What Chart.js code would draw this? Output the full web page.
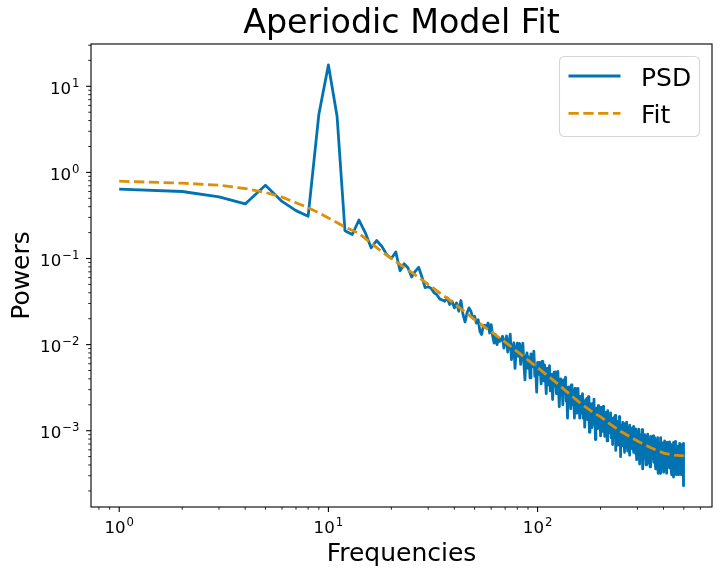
<!DOCTYPE html>
<html>
<head>
<meta charset="utf-8">
<title>Aperiodic Model Fit</title>
<script src="https://cdn.jsdelivr.net/npm/chart.js@4"></script>
<style>
  html, body { margin: 0; padding: 0; background: #fff; }
  canvas { display: block; }
</style>
</head>
<body>
<canvas id="chart" width="720" height="577"></canvas>
<script>
// Power spectrum, one value per 1 Hz bin starting at 1 Hz
const psdPowers = [
  0.64, 0.60, 0.52, 0.43, 0.71, 0.46, 0.36, 0.31, 4.7, 17.7,
  4.5, 0.21, 0.19, 0.28, 0.20, 0.133, 0.162, 0.139, 0.111, 0.100,
  0.119, 0.072, 0.087, 0.078, 0.061, 0.071, 0.079, 0.061, 0.046, 0.047,
  0.045, 0.040, 0.038, 0.034, 0.033, 0.0319, 0.0348, 0.0292, 0.0319, 0.0267,
  0.0305, 0.0244, 0.0325, 0.0224, 0.0183, 0.0233, 0.0267, 0.0244, 0.0204, 0.0213,
  0.0178, 0.0195, 0.0143, 0.0131, 0.0163, 0.0168, 0.0156, 0.0178, 0.0136, 0.0171,
  0.0125, 0.0104, 0.0131, 0.0100, 0.0119, 0.0109, 0.0114, 0.0125, 0.0091, 0.0109,
  0.0126, 0.0082, 0.0105, 0.0132, 0.0067, 0.0088, 0.0105, 0.0053, 0.0086, 0.0104,
  0.0073, 0.0103, 0.0059, 0.0084, 0.0104, 0.0061, 0.0039, 0.0071, 0.0080, 0.0053,
  0.0072, 0.0041, 0.0078, 0.0055, 0.0059, 0.0084, 0.0043, 0.0053, 0.0028, 0.0062,
  0.0045, 0.0062, 0.0051, 0.0035, 0.0064, 0.0053, 0.0038, 0.0058, 0.0041, 0.0027,
  0.0053, 0.0034, 0.0044, 0.0057, 0.0029, 0.0038, 0.0045, 0.0023, 0.0038, 0.0048,
  0.0033, 0.0048, 0.0027, 0.0040, 0.0049, 0.0029, 0.0019, 0.0035, 0.0040, 0.0026,
  0.0035, 0.0020, 0.0039, 0.0027, 0.0030, 0.0042, 0.0022, 0.0027, 0.0014, 0.0032,
  0.0023, 0.0032, 0.0026, 0.0018, 0.0034, 0.0028, 0.0020, 0.0030, 0.0022, 0.0014,
  0.0031, 0.0021, 0.0026, 0.0016, 0.0023, 0.0031, 0.0019, 0.0021, 0.0014, 0.0025,
  0.0025, 0.0016, 0.0021, 0.0027, 0.0014, 0.0018, 0.0022, 0.0011, 0.0019, 0.0023,
  0.00166, 0.00237, 0.00135, 0.00196, 0.00248, 0.00149, 0.00096, 0.00181, 0.00205, 0.00136,
  0.00185, 0.00109, 0.00206, 0.00148, 0.00162, 0.00233, 0.00119, 0.0015, 0.00079, 0.00178,
  0.00131, 0.00184, 0.00152, 0.00106, 0.00195, 0.00164, 0.00118, 0.00184, 0.00131, 0.00087,
  0.00187, 0.00128, 0.00162, 0.00098, 0.00145, 0.00192, 0.00116, 0.00134, 0.00086, 0.00158,
  0.00124, 0.00163, 0.00103, 0.00141, 0.00076, 0.00171, 0.00126, 0.00094, 0.00149, 0.00111,
  0.00146, 0.00097, 0.00126, 0.00161, 0.00083, 0.00111, 0.00133, 0.00069, 0.00114, 0.0014,
  0.001, 0.00143, 0.00083, 0.0012, 0.00151, 0.00092, 0.00059, 0.00111, 0.00127, 0.00084,
  0.00114, 0.00068, 0.00129, 0.00092, 0.00102, 0.00146, 0.00075, 0.00095, 0.0005, 0.00113,
  0.00083, 0.00116, 0.00097, 0.00067, 0.00125, 0.00105, 0.00076, 0.00118, 0.00085, 0.00056,
  0.00121, 0.00083, 0.00106, 0.00064, 0.00096, 0.00126, 0.00077, 0.0009, 0.00058, 0.00107,
  0.00084, 0.0011, 0.0007, 0.00096, 0.00052, 0.00116, 0.00085, 0.00063, 0.00101, 0.00075,
  0.00095, 0.0007, 0.00107, 0.00061, 0.00085, 0.00072, 0.00112, 0.00056, 0.00087, 0.00075,
  0.00095, 0.00062, 0.00082, 0.00105, 0.00054, 0.00073, 0.00089, 0.00046, 0.00076, 0.00095,
  0.00068, 0.00098, 0.00056, 0.00083, 0.00104, 0.00063, 0.00041, 0.00077, 0.00088, 0.00058,
  0.00079, 0.00047, 0.0009, 0.00065, 0.00071, 0.00103, 0.00053, 0.00067, 0.00036, 0.00082,
  0.0006, 0.00084, 0.00069, 0.00048, 0.0009, 0.00075, 0.00054, 0.00085, 0.0006, 0.0004,
  0.00087, 0.00059, 0.00076, 0.00046, 0.00069, 0.00091, 0.00055, 0.00065, 0.00042, 0.00078,
  0.00061, 0.0008, 0.00051, 0.0007, 0.00038, 0.00086, 0.00064, 0.00048, 0.00076, 0.00057,
  0.00072, 0.00054, 0.00082, 0.00047, 0.00066, 0.00056, 0.00087, 0.00043, 0.00068, 0.00059,
  0.00074, 0.00049, 0.00065, 0.00083, 0.00043, 0.00058, 0.0007, 0.00036, 0.0006, 0.00075,
  0.00054, 0.00078, 0.00045, 0.00065, 0.00083, 0.0005, 0.00032, 0.00061, 0.0007, 0.00046,
  0.00064, 0.00038, 0.00072, 0.00052, 0.00057, 0.00083, 0.00043, 0.00054, 0.00032, 0.00064,
  0.00048, 0.00067, 0.00056, 0.00039, 0.00072, 0.00061, 0.00044, 0.00069, 0.0005, 0.00033,
  0.00071, 0.00049, 0.00063, 0.00038, 0.00057, 0.00076, 0.00046, 0.00054, 0.00035, 0.00065,
  0.00051, 0.00068, 0.00043, 0.00059, 0.00032, 0.00073, 0.00054, 0.0004, 0.00065, 0.00049,
  0.00061, 0.00045, 0.00069, 0.0004, 0.00056, 0.00048, 0.00074, 0.00037, 0.00058, 0.0005,
  0.00062, 0.00042, 0.00055, 0.0007, 0.00036, 0.00049, 0.0006, 0.00031, 0.00052, 0.00065,
  0.00047, 0.00068, 0.00039, 0.00057, 0.00073, 0.00044, 0.00029, 0.00055, 0.00062, 0.00042,
  0.00057, 0.00034, 0.00065, 0.00047, 0.00052, 0.00075, 0.00039, 0.00049, 0.00031, 0.0006,
  0.00043, 0.00061, 0.00051, 0.00036, 0.00066, 0.00056, 0.00041, 0.00064, 0.00046, 0.00031,
  0.00066, 0.00046, 0.00059, 0.00036, 0.00054, 0.00071, 0.00043, 0.00051, 0.00033, 0.00061,
  0.00048, 0.00064, 0.00041, 0.00056, 0.00031, 0.00069, 0.00051, 0.00038, 0.00061, 0.00046,
  0.00059, 0.00043, 0.00066, 0.00038, 0.00054, 0.00046, 0.00071, 0.00036, 0.00056, 0.00023
];
const psdFreqs = psdPowers.map((_, i) => i + 1);

// aperiodic fit, sampled along the dashed curve
const fitFreqs = [1, 2, 3, 4, 5, 6, 7, 8, 9, 10, 12, 14, 16, 18, 20, 25, 30, 40, 50, 60,
  70, 80, 90, 100, 120, 140, 160, 180, 200, 225, 250, 300, 350, 400, 450, 500];
const fitPowers = [0.79, 0.75, 0.71, 0.65, 0.585, 0.516, 0.444, 0.389, 0.339, 0.296,
  0.233, 0.195, 0.151, 0.120, 0.100, 0.069, 0.050, 0.030, 0.0195, 0.0141,
  0.0107, 0.0083, 0.0066, 0.0054, 0.0038, 0.00275, 0.00209, 0.0017, 0.00145, 0.00117,
  0.00098, 0.00076, 0.00063, 0.00055, 0.00052, 0.00051];

const seriesNames = ["PSD", "Fit"];
const xTickExps = [0, 1, 2];
const yTickExps = [-3, -2, -1, 0, 1];

const FONT = "DejaVu Sans";

function supText(e) {
  return e < 0 ? "\u2212" + (-e) : String(e);
}

// draws "10^e" the way matplotlib mathtext does
function drawPow(ctx, e, x, y, align) {
  ctx.font = `16.67px "${FONT}"`;
  const wBase = ctx.measureText("10").width;
  ctx.font = `11.67px "${FONT}"`;
  const wSup = ctx.measureText(supText(e)).width;
  const w = wBase + 1 + wSup;
  const x0 = align === "right" ? x - w : x - w / 2;
  ctx.fillStyle = "#000";
  ctx.textAlign = "left";
  ctx.textBaseline = "alphabetic";
  ctx.font = `16.67px "${FONT}"`;
  ctx.fillText("10", x0, y);
  ctx.font = `11.67px "${FONT}"`;
  ctx.fillText(supText(e), x0 + wBase + 1, y - 6.8);
}

function logTicks(min, max) {
  const out = [];
  for (let e = Math.floor(Math.log10(min)); e <= Math.ceil(Math.log10(max)); e++) {
    for (let m = 1; m <= 9; m++) {
      const v = m * Math.pow(10, e);
      if (v >= min && v <= max) out.push({ v, major: m === 1 });
    }
  }
  return out;
}

// spines, log ticks with superscript labels and the framed legend
const mplAxes = {
  id: "mplAxes",
  afterDraw(chart) {
    const { ctx, chartArea: a, scales } = chart;
    const xs = scales.x, ys = scales.y;
    ctx.save();

    ctx.strokeStyle = "#000";
    ctx.lineWidth = 1.1;
    ctx.strokeRect(a.left, a.top, a.right - a.left, a.bottom - a.top);

    logTicks(xs.min, xs.max).forEach(t => {
      const px = xs.getPixelForValue(t.v);
      ctx.lineWidth = t.major ? 1.1 : 0.83;
      ctx.beginPath();
      ctx.moveTo(px, a.bottom);
      ctx.lineTo(px, a.bottom + (t.major ? 4.9 : 2.8));
      ctx.stroke();
    });
    logTicks(ys.min, ys.max).forEach(t => {
      const py = ys.getPixelForValue(t.v);
      ctx.lineWidth = t.major ? 1.1 : 0.83;
      ctx.beginPath();
      ctx.moveTo(a.left, py);
      ctx.lineTo(a.left - (t.major ? 4.9 : 2.8), py);
      ctx.stroke();
    });

    xTickExps.forEach(e => {
      drawPow(ctx, e, xs.getPixelForValue(Math.pow(10, e)), a.bottom + 25.5, "center");
    });
    yTickExps.forEach(e => {
      drawPow(ctx, e, a.left - 11.5, ys.getPixelForValue(Math.pow(10, e)) + 7.5, "right");
    });

    // legend, upper right
    const bw = 140, bh = 80;
    const bx = a.right - 12.5 - bw, by = a.top + 12.5;
    ctx.beginPath();
    ctx.roundRect(bx, by, bw, bh, 5);
    ctx.fillStyle = "rgba(255,255,255,0.8)";
    ctx.fill();
    ctx.lineWidth = 1.1;
    ctx.strokeStyle = "rgba(204,204,204,0.8)";
    ctx.stroke();

    chart.data.datasets.forEach((ds, i) => {
      const ly = by + 19.5 + i * 37.3;
      ctx.beginPath();
      ctx.setLineDash(ds.borderDash || []);
      ctx.strokeStyle = ds.borderColor;
      ctx.lineWidth = ds.borderWidth;
      ctx.moveTo(bx + 9, ly);
      ctx.lineTo(bx + 61, ly);
      ctx.stroke();
      ctx.setLineDash([]);
      ctx.fillStyle = "#000";
      ctx.font = `25px "${FONT}"`;
      ctx.textAlign = "left";
      ctx.textBaseline = "alphabetic";
      ctx.fillText(ds.label, bx + 81.5, ly + 10);
    });
    ctx.restore();
  }
};

new Chart(document.getElementById("chart"), {
  type: "line",
  data: {
    datasets: [
      {
        label: seriesNames[0],
        data: psdFreqs.map((f, i) => ({ x: f, y: psdPowers[i] })),
        borderColor: "#0173B2",
        borderWidth: 2.8,
        borderJoinStyle: "round",
        pointRadius: 0,
        tension: 0,
        order: 2
      },
      {
        label: seriesNames[1],
        data: fitFreqs.map((f, i) => ({ x: f, y: fitPowers[i] })),
        borderColor: "#DE8F05",
        borderWidth: 2.8,
        borderDash: [10.3, 4.5],
        borderJoinStyle: "round",
        pointRadius: 0,
        tension: 0,
        order: 1
      }
    ]
  },
  plugins: [mplAxes],
  options: {
    responsive: false,
    animation: false,
    devicePixelRatio: 1,
    layout: { padding: { left: 0, right: 8, top: 0, bottom: 0 } },
    plugins: {
      legend: { display: false },
      tooltip: { enabled: false },
      title: {
        display: true,
        text: "Aperiodic Model Fit",
        color: "#000",
        fullSize: false,
        font: { family: FONT, size: 33.3, weight: "normal", lineHeight: 1.15 },
        padding: { top: 5.3, bottom: 0.4 }
      }
    },
    scales: {
      x: {
        type: "logarithmic",
        position: "bottom",
        min: 0.733,
        max: 682,
        bounds: "data",
        grid: { display: false, drawTicks: false },
        border: { display: false },
        ticks: { display: false },
        title: {
          display: true,
          text: "Frequencies",
          color: "#000",
          font: { family: FONT, size: 25, lineHeight: 1.2 },
          padding: { top: 32, bottom: 8 }
        },
        afterFit: s => { s.height = 70; }
      },
      y: {
        type: "logarithmic",
        position: "left",
        min: 1.3e-4,
        max: 31,
        bounds: "data",
        grid: { display: false, drawTicks: false },
        border: { display: false },
        ticks: { display: false },
        title: {
          display: true,
          text: "Powers",
          color: "#000",
          font: { family: FONT, size: 25, lineHeight: 1.2 },
          padding: { top: 7.4, bottom: 53.6 }
        },
        afterFit: s => { s.width = 91; }
      }
    }
  }
});
</script>
</body>
</html>
